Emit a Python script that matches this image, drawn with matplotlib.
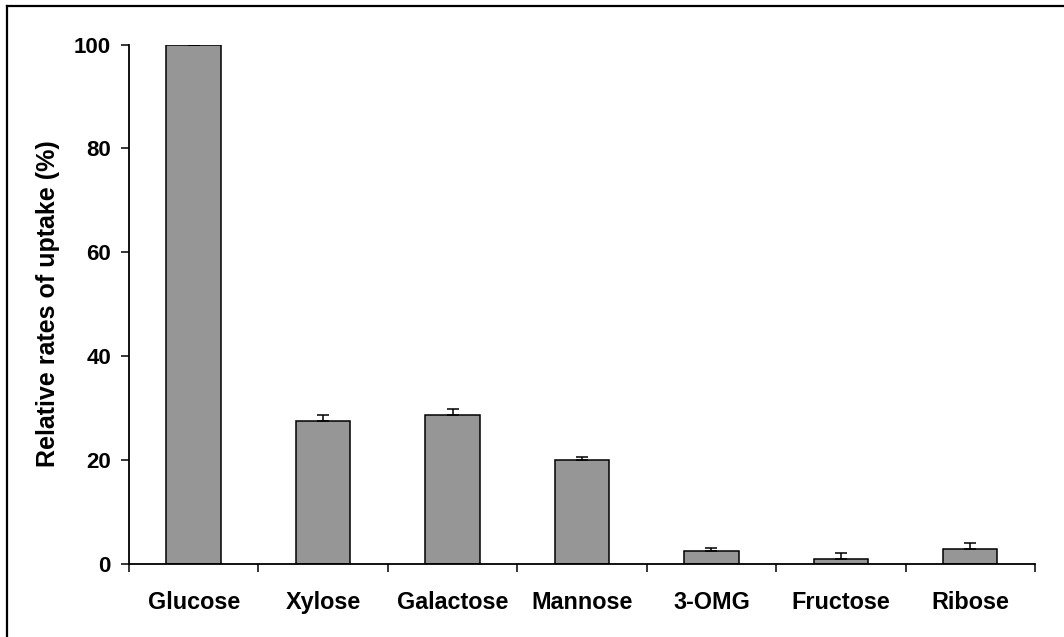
import matplotlib.pyplot as plt
from matplotlib.lines import Line2D
import numpy as np

sugars = ['Glucose', 'Xylose', 'Galactose', 'Mannose', '3-OMG', 'Fructose', 'Ribose']
uptake = [100, 27.4, 28.6, 20.0, 2.4, 0.9, 2.8]
uptake_err = [0, 1.2, 1.2, 0.6, 0.7, 1.2, 1.1]
yticks = [0, 20, 40, 60, 80, 100]

plt.rcParams['font.family'] = ['Liberation Sans', 'DejaVu Sans']
plt.rcParams['font.weight'] = 'bold'

fig = plt.figure(figsize=(10.64, 6.37), dpi=100)
ax = fig.add_axes([0.1212, 0.1151, 0.8515, 0.815])

x = np.arange(len(sugars))
ax.bar(x, uptake, width=0.42, color='#969696', edgecolor='black', linewidth=1.1, zorder=2)
ax.errorbar(x, uptake, yerr=[np.zeros(len(x)), uptake_err], fmt='none', ecolor='black',
            elinewidth=1.1, capsize=4.5, capthick=1.1, zorder=3)

ax.set_xlim(-0.5, len(sugars) - 0.5)
ax.set_ylim(0, 100)

ax.spines['top'].set_visible(False)
ax.spines['right'].set_visible(False)
ax.spines['left'].set_linewidth(1.3)
ax.spines['bottom'].set_linewidth(1.3)

ax.set_yticks(yticks)
ax.set_yticklabels([str(v) for v in yticks], fontsize=16, fontweight='bold')
ax.tick_params(axis='y', direction='out', length=6, width=1.1, pad=7)

# category labels at centres, tick marks between categories
ax.set_xticks(x)
ax.set_xticklabels(sugars, fontsize=16.8, fontweight='bold')
ax.tick_params(axis='x', which='major', length=0, pad=20)
ax.set_xticks(np.arange(len(sugars) + 1) - 0.5, minor=True)
ax.tick_params(axis='x', which='minor', direction='out', length=6, width=1.1)

ax.set_ylabel('Relative rates of uptake (%)', fontsize=18, fontweight='bold', labelpad=10)

# frame around the chart area (only top and left edges fall inside the image)
fig.add_artist(Line2D([0.0066, 1.0], [0.9898, 0.9898], transform=fig.transFigure,
                      color='black', linewidth=1.6))
fig.add_artist(Line2D([0.0066, 0.0066], [0.0, 0.9898], transform=fig.transFigure,
                      color='black', linewidth=1.6))

fig.savefig('out.png', dpi=100)
